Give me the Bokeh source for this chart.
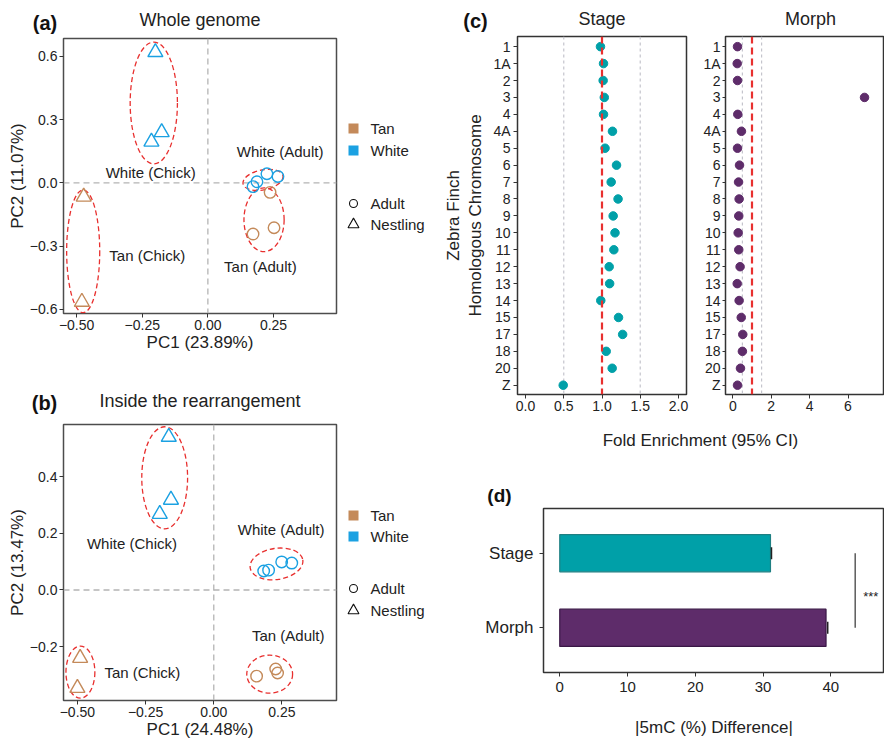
from bokeh.plotting import figure
from bokeh.layouts import row, column
from bokeh.models import Range1d, FixedTicker, Span
from bokeh.embed import file_html
from bokeh.resources import INLINE
from bokeh.core.properties import value

FONT = "Liberation Sans"
TAN = "#C48A5A"
BLUE = "#1BA1E2"
RED = "#E8302F"
TEAL = "#00A0A8"
PURPLE = "#5E2C6A"
DARK = "#333333"
TXT = "#222222"

# ---------------- panel (a): whole genome PCA ----------------
a_white_nest_x = [-0.200, -0.215, -0.176]
a_white_nest_y = [0.620, 0.195, 0.240]
a_tan_nest_x = [-0.473, -0.480]
a_tan_nest_y = [-0.066, -0.565]
a_white_adult_x = [0.172, 0.187, 0.225, 0.267]
a_white_adult_y = [-0.018, 0.005, 0.043, 0.030]
a_tan_adult_x = [0.237, 0.172, 0.252]
a_tan_adult_y = [-0.045, -0.243, -0.213]
a_ell_x = [-0.206, -0.475, 0.210, 0.214]
a_ell_y = [0.379, -0.325, 0.014, -0.175]
a_ell_w = [0.180, 0.126, 0.155, 0.153]
a_ell_h = [0.578, 0.583, 0.095, 0.303]
a_ell_angle = [0.0, 0.0, 0.2, 0.0]
a_lab_text = ["White (Chick)", "Tan (Chick)", "White (Adult)", "Tan (Adult)"]
a_lab_x = [-0.218, -0.231, 0.275, 0.200]
a_lab_y = [0.047, -0.346, 0.147, -0.398]
a_xticks = [-0.5, -0.25, 0, 0.25]
a_xtick_labels = ["\u22120.50", "\u22120.25", "0.00", "0.25"]
a_yticks = [-0.6, -0.3, 0, 0.3, 0.6]
a_ytick_labels = ["\u22120.6", "\u22120.3", "0.0", "0.3", "0.6"]

# ---------------- panel (b): inside the rearrangement ----------------
b_white_nest_x = [-0.165, -0.157, -0.198]
b_white_nest_y = [0.540, 0.318, 0.268]
b_tan_nest_x = [-0.490, -0.500]
b_tan_nest_y = [-0.240, -0.346]
b_white_adult_x = [0.183, 0.201, 0.249, 0.286]
b_white_adult_y = [0.067, 0.070, 0.099, 0.095]
b_tan_adult_x = [0.157, 0.227, 0.234]
b_tan_adult_y = [-0.304, -0.279, -0.293]
b_ell_x = [-0.180, -0.489, 0.230, 0.205]
b_ell_y = [0.396, -0.290, 0.092, -0.297]
b_ell_w = [0.168, 0.106, 0.195, 0.168]
b_ell_h = [0.360, 0.184, 0.110, 0.134]
b_ell_angle = [0.0, 0.0, 0.15, 0.0]
b_lab_text = ["White (Chick)", "Tan (Chick)", "White (Adult)", "Tan (Adult)"]
b_lab_x = [-0.300, -0.262, 0.247, 0.273]
b_lab_y = [0.163, -0.290, 0.212, -0.159]
b_xticks = [-0.5, -0.25, 0, 0.25]
b_xtick_labels = ["\u22120.50", "\u22120.25", "0.00", "0.25"]
b_yticks = [-0.2, 0, 0.2, 0.4]
b_ytick_labels = ["\u22120.2", "0.0", "0.2", "0.4"]

# ---------------- panel (c): fold enrichment ----------------
chrom = ["1", "1A", "2", "3", "4", "4A", "5", "6", "7", "8", "9", "10",
         "11", "12", "13", "14", "15", "17", "18", "20", "Z"]
stage_fe = [0.98, 1.02, 1.015, 1.03, 1.02, 1.137, 1.04, 1.19, 1.12, 1.21, 1.146,
            1.17, 1.155, 1.094, 1.10, 0.984, 1.216, 1.27, 1.055, 1.133, 0.493]
morph_fe = [0.245, 0.23, 0.245, 6.86, 0.26, 0.45, 0.245, 0.35, 0.30, 0.33, 0.31,
            0.28, 0.31, 0.38, 0.23, 0.33, 0.44, 0.52, 0.50, 0.40, 0.245]
stage_xticks = [0, 0.5, 1, 1.5, 2]
stage_xtick_labels = ["0.0", "0.5", "1.0", "1.5", "2.0"]
morph_xticks = [0, 2, 4, 6, 8]

# ---------------- panel (d): |5mC| difference ----------------
d_groups = ["Morph", "Stage"]
d_means = [39.3, 31.1]
d_se = [0.25, 0.15]
d_colors = [PURPLE, TEAL]
d_edges = ["#3A1746", "#1E7F82"]
d_xticks = [0, 10, 20, 30, 40]


def style(p, tick_size="14px", label_size="17px", outline="#4D4D4D"):
    for ax in p.axis:
        ax.axis_line_color = None
        ax.major_tick_out = 4
        ax.major_tick_in = 0
        ax.minor_tick_out = 0
        ax.minor_tick_in = 0
        ax.major_tick_line_color = DARK
        ax.major_tick_line_width = 1
        ax.major_label_text_font = FONT
        ax.major_label_text_font_size = tick_size
        ax.major_label_text_color = TXT
        ax.axis_label_text_font = FONT
        ax.axis_label_text_font_size = label_size
        ax.axis_label_text_font_style = "normal"
        ax.axis_label_text_color = TXT
        ax.major_label_standoff = 2
        ax.axis_label_standoff = 0
    p.grid.visible = False
    p.outline_line_color = outline
    p.outline_line_width = 1.5
    p.background_fill_color = "white"
    p.border_fill_color = "white"


def text_strip(width, height, items):
    p = figure(width=width, height=height, x_range=Range1d(0, width), y_range=Range1d(height, 0),
               toolbar_location=None, output_backend="svg", title=None,
               x_axis_type=None, y_axis_type=None, min_border=0)
    p.grid.visible = False
    p.outline_line_color = None
    for (x, y, t, size, bold) in items:
        p.text(x=[x], y=[y], text=[t], text_font=value(FONT), text_font_size=size,
               text_font_style="bold" if bold else "normal",
               text_align="center", text_baseline="middle",
               text_color="#111111" if bold else TXT)
    return p


def pca_panel(height, top, bottom, xr, yr, xt, xtl, yt, ytl, xlab, ylab,
              wn, tn, wa, ta, ell, labs):
    p = figure(width=338, height=height, x_range=Range1d(*xr), y_range=Range1d(*yr),
               toolbar_location=None, output_backend="svg", title=None,
               min_border_left=63, min_border_right=2, min_border_top=top,
               min_border_bottom=bottom, x_axis_label=xlab, y_axis_label=ylab)
    style(p)
    p.xaxis.ticker = FixedTicker(ticks=xt)
    p.xaxis.major_label_overrides = dict(zip(xt, xtl))
    p.yaxis.ticker = FixedTicker(ticks=yt)
    p.yaxis.major_label_overrides = dict(zip(yt, ytl))
    for dim in ("width", "height"):
        p.add_layout(Span(location=0, dimension=dim, line_color="#B4B4B4",
                          line_dash="6 4", line_width=1.3, level="underlay"))
    ex, ey, ew, eh, ea = ell
    p.ellipse(x=ex, y=ey, width=ew, height=eh, angle=ea, fill_color=None,
              line_color=RED, line_dash="5 3", line_width=1.3)
    p.scatter(x=wn[0], y=wn[1], marker="triangle", size=15, fill_color=None,
              line_color=BLUE, line_width=1.4)
    p.scatter(x=tn[0], y=tn[1], marker="triangle", size=15, fill_color=None,
              line_color=TAN, line_width=1.4)
    p.scatter(x=wa[0], y=wa[1], marker="circle", size=11.5, fill_color=None,
              line_color=BLUE, line_width=1.4)
    p.scatter(x=ta[0], y=ta[1], marker="circle", size=11.5, fill_color=None,
              line_color=TAN, line_width=1.4)
    p.text(x=labs[1], y=labs[2], text=labs[0], text_font=value(FONT),
           text_font_size="15px", text_align="center", text_baseline="middle",
           text_color=TXT)
    return p


def legend_fig(height, ys):
    p = figure(width=102, height=height, x_range=Range1d(0, 102), y_range=Range1d(height, 0),
               toolbar_location=None, output_backend="svg", title=None,
               x_axis_type=None, y_axis_type=None, min_border=0)
    p.grid.visible = False
    p.outline_line_color = None
    p.scatter(x=[15, 15], y=ys[:2], marker="square", size=10, fill_color=[TAN, BLUE],
              line_color=None)
    p.scatter(x=[15], y=[ys[2]], marker="circle", size=8, fill_color=None,
              line_color="#111111", line_width=1.1)
    p.scatter(x=[15], y=[ys[3]], marker="triangle", size=11, fill_color=None,
              line_color="#111111", line_width=1.1)
    p.text(x=[32] * 4, y=ys, text=["Tan", "White", "Adult", "Nestling"],
           text_font=value(FONT), text_font_size="15px", text_baseline="middle",
           text_color=TXT)
    return p


# ---- left column ----
stripA = text_strip(440, 36, [(44.5, 22, "(a)", "20px", True),
                              (199.5, 19, "Whole genome", "18px", False)])
pA = pca_panel(336, 2, 59, (-0.55, 0.49), (-0.62, 0.685), a_xticks, a_xtick_labels,
               a_yticks, a_ytick_labels, "PC1 (23.89%)", "PC2 (11.07%)",
               (a_white_nest_x, a_white_nest_y), (a_tan_nest_x, a_tan_nest_y),
               (a_white_adult_x, a_white_adult_y), (a_tan_adult_x, a_tan_adult_y),
               (a_ell_x, a_ell_y, a_ell_w, a_ell_h, a_ell_angle),
               (a_lab_text, a_lab_x, a_lab_y))
legA = legend_fig(336, [92, 114, 167, 188])

stripB = text_strip(440, 49, [(44, 30, "(b)", "20px", True),
                              (199.5, 28, "Inside the rearrangement", "18px", False)])
pB = pca_panel(320, 3, 41, (-0.551, 0.45), (-0.39, 0.584), b_xticks, b_xtick_labels,
               b_yticks, b_ytick_labels, "PC1 (24.48%)", "PC2 (13.47%)",
               (b_white_nest_x, b_white_nest_y), (b_tan_nest_x, b_tan_nest_y),
               (b_white_adult_x, b_white_adult_y), (b_tan_adult_x, b_tan_adult_y),
               (b_ell_x, b_ell_y, b_ell_w, b_ell_h, b_ell_angle),
               (b_lab_text, b_lab_x, b_lab_y))
legB = legend_fig(320, [94, 115, 167, 189])

# ---- (c) ----
ypos = [len(chrom) - i for i in range(len(chrom))]

stripC = text_strip(444, 34, [(35, 20, "(c)", "20px", True),
                              (161.5, 18, "Stage", "18px", False),
                              (370, 18, "Morph", "18px", False)])

pC1 = figure(width=260, height=386, x_range=Range1d(-0.105, 2.105), y_range=Range1d(0.45, 21.6),
             toolbar_location=None, output_backend="svg", title=None,
             min_border_left=77, min_border_right=14, min_border_top=2, min_border_bottom=26,
             y_axis_label="Zebra Finch\nHomologous Chromosome")
style(pC1, tick_size="14px", label_size="17px", outline=DARK)
pC1.yaxis.ticker = FixedTicker(ticks=ypos)
pC1.yaxis.major_label_overrides = dict(zip(ypos, chrom))
pC1.yaxis.major_label_standoff = 3
pC1.yaxis.axis_label_standoff = 5
pC1.xaxis.ticker = FixedTicker(ticks=stage_xticks)
pC1.xaxis.major_label_overrides = dict(zip(stage_xticks, stage_xtick_labels))
for loc in (0.5, 1.5):
    pC1.add_layout(Span(location=loc, dimension="height", line_color="#C4C4CC",
                        line_dash="3 3", line_width=1.2, level="underlay"))
pC1.scatter(x=stage_fe, y=ypos, marker="circle", size=8.5, fill_color=TEAL, line_color=TEAL)
pC1.add_layout(Span(location=1, dimension="height", line_color=RED, line_dash="7 4",
                    line_width=2.2))

pC2 = figure(width=184, height=386, x_range=Range1d(-0.38, 7.9), y_range=Range1d(0.45, 21.6),
             toolbar_location=None, output_backend="svg", title=None,
             min_border_left=25, min_border_right=0, min_border_top=2, min_border_bottom=26)
style(pC2, tick_size="14px", label_size="17px", outline=DARK)
pC2.yaxis.ticker = FixedTicker(ticks=ypos)
pC2.yaxis.major_label_overrides = dict(zip(ypos, chrom))
pC2.yaxis.major_tick_out = 3
pC2.xaxis.ticker = FixedTicker(ticks=morph_xticks)
for loc in (0.5, 1.5):
    pC2.add_layout(Span(location=loc, dimension="height", line_color="#C4C4CC",
                        line_dash="3 3", line_width=1.2, level="underlay"))
pC2.scatter(x=morph_fe, y=ypos, marker="circle", size=8.5, fill_color=PURPLE, line_color=PURPLE)
pC2.add_layout(Span(location=1, dimension="height", line_color=RED, line_dash="7 4",
                    line_width=2.2))

stripF = text_strip(444, 87, [(260, 20, "Fold Enrichment (95% CI)", "17px", False),
                              (59, 75, "(d)", "19px", True)])

# ---- (d) ----
d_y = [1, 2]
pD = figure(width=444, height=234, x_range=Range1d(-2.4, 47.93), y_range=Range1d(0.4, 2.6),
            toolbar_location=None, output_backend="svg", title=None,
            min_border_left=103, min_border_right=0, min_border_top=1, min_border_bottom=69,
            x_axis_label="|5mC (%) Difference|")
style(pD, tick_size="15px", label_size="17px", outline=DARK)
pD.yaxis.ticker = FixedTicker(ticks=d_y)
pD.yaxis.major_label_overrides = dict(zip(d_y, d_groups))
pD.yaxis.major_label_text_font_size = "17px"
pD.yaxis.major_label_standoff = 6
pD.xaxis.ticker = FixedTicker(ticks=d_xticks)
pD.xaxis.major_label_standoff = 5
pD.xaxis.axis_label_standoff = 23
pD.hbar(y=d_y, left=0, right=d_means, height=0.5, fill_color=d_colors,
        line_color=d_edges, line_width=1.2)
d_err_hi = [m + s for m, s in zip(d_means, d_se)]
pD.segment(x0=d_err_hi, y0=[v - 0.08 for v in d_y], x1=d_err_hi, y1=[v + 0.08 for v in d_y],
           line_color="#222222", line_width=1.5)
pD.segment(x0=[43.6], y0=[d_y[0]], x1=[43.6], y1=[d_y[1]], line_color="#333333", line_width=1.2)
pD.text(x=[45.9], y=[1.42], text=["***"], text_font=value(FONT), text_font_size="13px",
        text_align="center", text_baseline="middle", text_color=TXT)

left = column(row(stripA), row(pA, column(legA)), row(stripB), row(pB, column(legB)))
right = column(row(stripC), row(pC1, pC2), row(stripF), row(pD))
layout = row(left, right)

open("out.html", "w").write(file_html(layout, INLINE))
